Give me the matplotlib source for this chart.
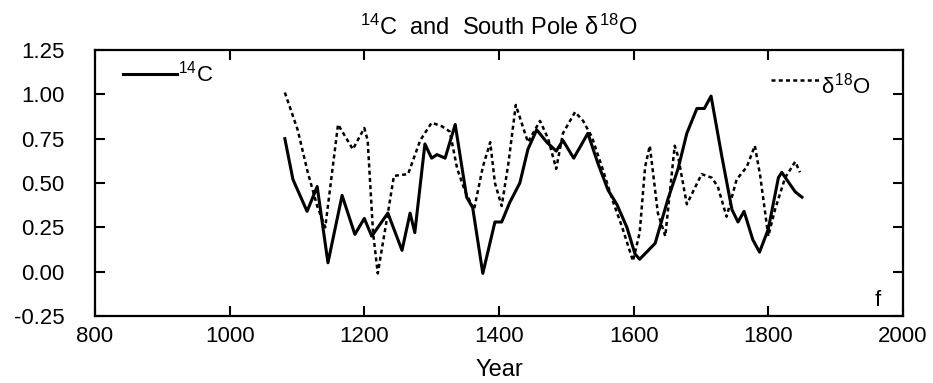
import matplotlib
matplotlib.use('Agg')
import matplotlib.pyplot as plt
import numpy as np

plt.rcParams['font.family'] = ['Liberation Sans', 'DejaVu Sans']
plt.rcParams['mathtext.fontset'] = 'custom'
plt.rcParams['mathtext.rm'] = 'Liberation Sans'
plt.rcParams['mathtext.it'] = 'Liberation Sans'
plt.rcParams['mathtext.bf'] = 'Liberation Sans'

# 14C record (solid)
c14_year = [1082, 1094, 1115, 1130, 1146, 1167, 1186, 1200, 1211, 1235, 1256,
            1268, 1275, 1290, 1300, 1308, 1320, 1335, 1352, 1361, 1376, 1394,
            1404, 1416, 1431, 1443, 1456, 1471, 1485, 1495, 1511, 1532, 1547,
            1562, 1575, 1590, 1602, 1609, 1632, 1651, 1666, 1679, 1694, 1705,
            1715, 1731, 1746, 1755, 1764, 1777, 1787, 1800, 1815, 1820, 1829,
            1840, 1850]
c14_val = [0.75, 0.52, 0.34, 0.48, 0.05, 0.43, 0.21, 0.30, 0.20, 0.33, 0.12,
           0.33, 0.22, 0.72, 0.64, 0.66, 0.64, 0.83, 0.42, 0.36, -0.01, 0.28,
           0.28, 0.39, 0.50, 0.69, 0.80, 0.73, 0.68, 0.74, 0.64, 0.78, 0.61,
           0.46, 0.38, 0.25, 0.10, 0.07, 0.16, 0.41, 0.58, 0.78, 0.92, 0.92,
           0.99, 0.65, 0.35, 0.28, 0.34, 0.18, 0.11, 0.24, 0.53, 0.56, 0.51,
           0.45, 0.42]

# South Pole d18O record (dashed)
d18o_year = [1082, 1101, 1116, 1130, 1142, 1161, 1183, 1200, 1205, 1213, 1220,
             1235, 1244, 1265, 1283, 1300, 1315, 1327, 1338, 1350, 1363, 1376,
             1387, 1394, 1404, 1414, 1425, 1443, 1461, 1473, 1485, 1495, 1513,
             1525, 1538, 1553, 1568, 1583, 1599, 1609, 1617, 1624, 1636, 1647,
             1661, 1666, 1679, 1701, 1716, 1725, 1738, 1753, 1768, 1780, 1788,
             1800, 1810, 1825, 1840, 1847]
d18o_val = [1.01, 0.80, 0.56, 0.37, 0.25, 0.83, 0.69, 0.81, 0.74, 0.22, -0.01,
            0.33, 0.54, 0.55, 0.74, 0.84, 0.82, 0.79, 0.58, 0.45, 0.35, 0.59,
            0.73, 0.50, 0.37, 0.61, 0.94, 0.73, 0.85, 0.75, 0.58, 0.78, 0.90,
            0.85, 0.76, 0.59, 0.41, 0.25, 0.06, 0.22, 0.59, 0.71, 0.33, 0.20,
            0.71, 0.65, 0.38, 0.55, 0.53, 0.48, 0.31, 0.52, 0.59, 0.71, 0.54,
            0.20, 0.35, 0.53, 0.62, 0.56]

x_ticks = [800, 1000, 1200, 1400, 1600, 1800, 2000]
y_ticks = [-0.25, 0.00, 0.25, 0.50, 0.75, 1.00, 1.25]

fig = plt.figure(figsize=(9.33, 3.83), dpi=100)
ax = fig.add_axes([0.1018, 0.175, 0.866, 0.6945])

ax.plot(c14_year, c14_val, color='black', lw=2.2, solid_joinstyle='round')
ax.plot(d18o_year, d18o_val, color='black', lw=1.8, dashes=(1.6, 1.3))

ax.set_xlim(800, 2000)
ax.set_ylim(-0.25, 1.25)
ax.set_xticks(x_ticks)
ax.set_yticks(y_ticks)
ax.set_yticklabels(['%.2f' % v for v in y_ticks])
ax.tick_params(direction='in', length=7, width=1.5, labelsize=16,
               top=True, right=True)
ax.tick_params(axis='x', pad=7)
ax.tick_params(axis='y', pad=22)
for s in ax.spines.values():
    s.set_linewidth(1.6)

ax.set_xlabel('Year', fontsize=17, labelpad=9)
ax.set_title(r'$^{14}$C  and  South Pole $\delta^{18}$O', fontsize=17, pad=11)

# legend entries drawn like the original figure
ax.plot([842, 922], [1.115, 1.115], color='black', lw=2.2)
ax.text(924, 1.115, r'$^{14}$C', fontsize=16, va='center')
ax.plot([1804, 1876], [1.08, 1.08], color='black', lw=1.8, dashes=(1.6, 1.3))
ax.text(1878, 1.05, r'$\delta^{18}$O', fontsize=16, va='center')

ax.text(1963, -0.16, 'f', fontsize=16, ha='center', va='center')

fig.savefig('out.png', dpi=100)
